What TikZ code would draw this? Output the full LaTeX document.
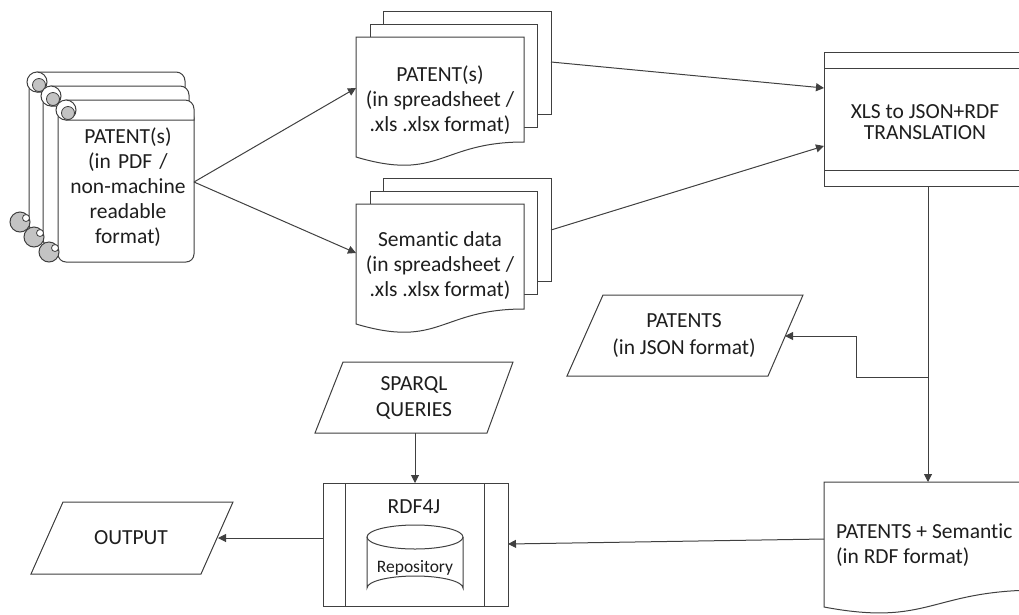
\documentclass[tikz,border=0pt]{standalone}
\usepackage{fontspec}
\setmainfont{Carlito}[Ligatures=NoCommon]
\usetikzlibrary{arrows.meta}
\definecolor{ln}{RGB}{64,64,64}
\definecolor{tx}{RGB}{30,30,30}
\definecolor{curlgray}{RGB}{195,195,195}
\newcommand{\myscroll}[4]{%
  % body
  \filldraw[shp, rounded corners=8pt] (#1,#2+10) -- (#1,#4) -- (#3,#4) -- (#3,#2+10) -- cycle;
  % top band
  \filldraw[shp] (#1+8,#2) [rounded corners=9pt] -- (#3,#2) [sharp corners] -- (#3,#2+20) -- (#1+8,#2+20) -- cycle;
  \filldraw[shp] (#1+8,#2+10) circle[radius=10pt];
  \filldraw[draw=ln, fill=curlgray, line width=0.8pt] (#1+10,#2+13) circle[radius=6.5pt];
  % bottom curl
  \filldraw[draw=ln, fill=curlgray, line width=1pt] (#1-9,#4-10) circle[radius=10pt];
  \filldraw[draw=ln, fill=white, line width=0.8pt] (#1-3,#4-14) circle[radius=3.5pt];
}
\begin{document}
\begin{tikzpicture}[x=1pt,y=-1pt,
  shp/.style={draw=ln, fill=white, line width=1pt},
  lnst/.style={draw=ln, line width=1pt},
  arr/.style={draw=ln, line width=1pt, -{Triangle[length=8pt,width=8pt]}},
  txt/.style={font=\fontsize{21.5}{25}\selectfont, text=tx, align=center, inner sep=0pt},
  smalltxt/.style={font=\fontsize{17.5}{20}\selectfont, text=tx, align=center, inner sep=0pt}]
\useasboundingbox (0,0) rectangle (1019,614);

% ---------- scrolls (PDF patents)
\myscroll{29}{72}{185}{232}
\myscroll{43}{86}{189}{247}
\myscroll{58}{100}{194}{262}
\node[txt, text width=140pt] (pdf) at (128,187) {PATENT(s)\\(in PDF /\\non-machine\\readable\\format)};
\coordinate (pdfR) at (194,182);

% ---------- multidocument 1
\draw[lnst] (383,24) -- (383,11) -- (551,11) -- (551,114) -- (537,114);
\draw[lnst] (370,37) -- (370,24) -- (537,24) -- (537,127) -- (524,127);
\filldraw[shp] (356,37) -- (524,37) -- (524,142) .. controls (440,142) and (440,182) .. (356,157) -- cycle;
\node[txt] (doca) at (440,100) {PATENT(s)\\(in spreadsheet /\\.xls .xlsx format)};
\coordinate (docaL) at (356,88);
\coordinate (docaR) at (551,62);

% ---------- multidocument 2
\draw[lnst] (383,191) -- (383,178) -- (551,178) -- (551,281) -- (537,281);
\draw[lnst] (370,204) -- (370,191) -- (537,191) -- (537,294) -- (524,294);
\filldraw[shp] (356,204) -- (524,204) -- (524,309) .. controls (440,309) and (440,349) .. (356,324) -- cycle;
\node[txt] (docb) at (440,266) {Semantic data\\(in spreadsheet /\\.xls .xlsx format)};
\coordinate (docbL) at (356,253);
\coordinate (docbR) at (551,230);

% ---------- XLS translation box
\draw[shp] (824,52) rectangle (1040,186);
\draw[lnst] (824,68) -- (1040,68);
\draw[lnst] (824,170) -- (1040,170);
\node[txt, font=\fontsize{21.5}{21}\selectfont] (xls) at (925,122) {XLS to JSON+RDF\\TRANSLATION};
\coordinate (xlsA) at (824,88);
\coordinate (xlsB) at (824,146);
\coordinate (xlsD) at (928,186);

% ---------- PATENTS JSON
\draw[shp] (603,295) -- (803,295) -- (768,376) -- (567,376) -- cycle;
\node[txt, font=\fontsize{21.5}{27}\selectfont] (json) at (684,336) {PATENTS\\(in JSON format)};
\coordinate (jsonR) at (785,336);

% ---------- PATENTS + Semantic (RDF)
\filldraw[shp] (1040,482) -- (824,482) -- (824,607) .. controls (930,627) and (930,590) .. (1040,590);
\node[txt, align=left, anchor=west] (rdf) at (836,545) {PATENTS + Semantic\\(in RDF format)};
\coordinate (rdfT) at (928,482);
\coordinate (rdfL) at (824,539);

% ---------- SPARQL
\draw[shp] (343,362) -- (513,362) -- (487,433) -- (315,433) -- cycle;
\node[txt, font=\fontsize{21.5}{26}\selectfont] (sparql) at (414,398) {SPARQL\\QUERIES};
\coordinate (sparqlB) at (415,433);

% ---------- RDF4J
\draw[shp] (323,483) rectangle (508,606);
\draw[lnst] (345,483) -- (345,606);
\draw[lnst] (484,483) -- (484,606);
\node[txt] (rdfj) at (414,507) {RDF4J};
\draw[lnst] (367,537) -- (367,588) arc[start angle=180, end angle=360, x radius=48pt, y radius=-12pt] -- (463,537);
\draw[lnst] (415,537) ellipse[x radius=48pt, y radius=12pt];
\node[smalltxt] (repo) at (415,568) {Repository};
\coordinate (rdfjT) at (415,483);
\coordinate (rdfjR) at (508,544);
\coordinate (rdfjL) at (323,538);

% ---------- OUTPUT
\draw[shp] (63,502) -- (233,502) -- (201,574) -- (31,574) -- cycle;
\node[txt] (out) at (131,538) {OUTPUT};
\coordinate (outR) at (218,538);

% ---------- connectors
\draw[arr] (pdfR) -- (docaL);
\draw[arr] (pdfR) -- (docbL);
\draw[arr] (docaR) -- (xlsA);
\draw[arr] (docbR) -- (xlsB);
\draw[arr] (xlsD) -- (rdfT);
\coordinate (br1) at (928,377);
\coordinate (br2) at (856,377);
\coordinate (br3) at (856,336);
\draw[arr] (br1) -- (br2) -- (br3) -- (jsonR);
\draw[arr] (sparqlB) -- (rdfjT);
\draw[arr] (rdfL) -- (rdfjR);
\draw[arr] (rdfjL) -- (outR);
\end{tikzpicture}
\end{document}
